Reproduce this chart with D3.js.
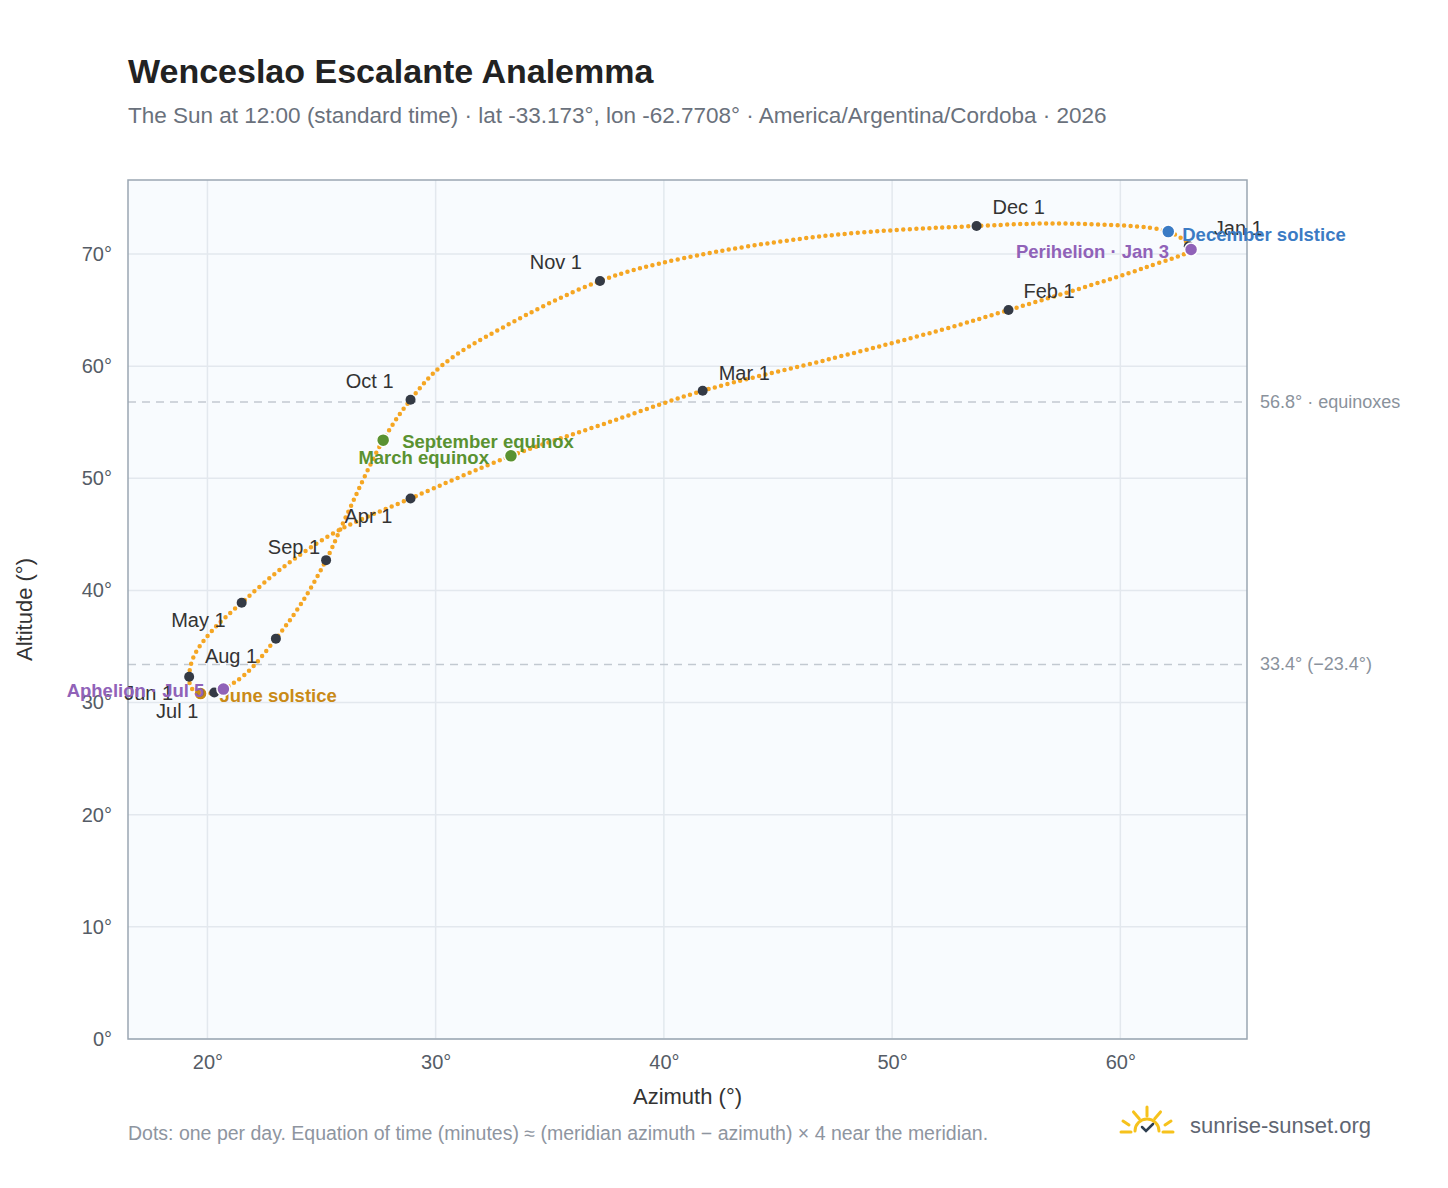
<!DOCTYPE html>
<meta charset="utf-8">
<body style="margin:0;background:#fff">
<script src="https://cdn.jsdelivr.net/npm/d3@7"></script>
<script>
// sun position at 12:00 standard time
var days = ["Jan 1","Jan 3","Jan 10","Jan 20","Feb 1","Feb 10","Feb 20","Mar 1","Mar 10","Mar 20","Apr 1","Apr 10","Apr 20","May 1","May 10","May 20","Jun 1","Jun 10","Jun 21","Jul 1","Jul 5","Jul 15","Aug 1","Aug 15","Sep 1","Sep 10","Sep 22","Oct 1","Oct 10","Oct 20","Nov 1","Nov 10","Nov 20","Dec 1","Dec 10","Dec 21","Dec 31"];
var azimuth  = [63.0,63.1,61.1,58.2,55.1,52.1,47.4,41.7,37.3,33.3,28.9,25.7,23.4,21.5,20.2,19.4,19.2,19.3,19.7,20.3,20.7,21.7,23.0,24.1,25.2,26.1,27.7,28.9,30.3,32.9,37.2,40.8,47.0,53.7,58.0,62.1,63.0];
var altitude = [70.7,70.4,68.8,66.9,65.0,63.2,60.7,57.8,54.8,52.0,48.2,45.3,42.2,38.9,36.4,34.1,32.3,31.3,30.8,30.9,31.2,32.6,35.7,38.8,42.7,46.7,53.4,57.0,60.1,63.4,67.6,69.6,71.6,72.5,72.7,72.0,70.9];

var monthDays = ["Jan 1","Feb 1","Mar 1","Apr 1","May 1","Jun 1","Jul 1","Aug 1","Sep 1","Oct 1","Nov 1","Dec 1"];
// label placement relative to dot: [dx, dy, anchor]
var monthLabelPos = [[25,-11,"start"],[15,-12,"start"],[16,-11,"start"],[-66,25,"start"],[-16,24,"end"],[-16,23,"end"],[-16,26,"end"],[-71,24,"start"],[-6,-6,"end"],[-17,-12,"end"],[-18,-12,"end"],[16,-12,"start"]];

var events = [
  {day:"Dec 21", name:"December solstice", color:"#3b7bc4", dx:14, dy:9, anchor:"start"},
  {day:"Jan 3", name:"Perihelion · Jan 3", color:"#9062b8", dx:-22, dy:8, anchor:"end"},
  {day:"Mar 20", name:"March equinox", color:"#5a9231", dx:-22, dy:8, anchor:"end"},
  {day:"Sep 22", name:"September equinox", color:"#5a9231", dx:19, dy:8, anchor:"start"},
  {day:"Jun 21", name:"June solstice", color:"#c98a17", dx:19, dy:8, anchor:"start"},
  {day:"Jul 5", name:"Aphelion · Jul 5", color:"#9062b8", dx:-19, dy:8, anchor:"end"}
];
var refLines = [{v:56.8, label:"56.8° · equinoxes"},{v:33.4, label:"33.4° (−23.4°)"}];
var xTicks = [20,30,40,50,60], yTicks = [0,10,20,30,40,50,60,70];

var W = 1448, H = 1188, L = 128, R = 1247, T = 180, B = 1039;
var svg = d3.select("body").append("svg").attr("width",W).attr("height",H)
  .style("font-family","Liberation Sans, Arial, sans-serif");

var x = d3.scaleLinear().domain([16.52,65.55]).range([L,R]);
var y = d3.scaleLinear().domain([0,76.6]).range([B,T]);

svg.append("rect").attr("x",L).attr("y",T).attr("width",R-L).attr("height",B-T).attr("fill","#f8fbfe");

// grid
svg.selectAll(".gx").data(xTicks).enter().append("line")
  .attr("x1",d=>x(d)).attr("x2",d=>x(d)).attr("y1",T).attr("y2",B).attr("stroke","#e3e8ee").attr("stroke-width",1.5);
svg.selectAll(".gy").data(yTicks).enter().append("line")
  .attr("x1",L).attr("x2",R).attr("y1",d=>y(d)).attr("y2",d=>y(d)).attr("stroke","#e3e8ee").attr("stroke-width",1.5);

// reference lines
refLines.forEach(function(r){
  svg.append("line").attr("x1",L).attr("x2",R).attr("y1",y(r.v)).attr("y2",y(r.v))
    .attr("stroke","#c2c9d1").attr("stroke-width",1.5).attr("stroke-dasharray","8,6");
  svg.append("text").attr("x",R+13).attr("y",y(r.v)+6).attr("font-size",18).attr("fill","#8a929c").text(r.label);
});

svg.append("rect").attr("x",L).attr("y",T).attr("width",R-L).attr("height",B-T)
  .attr("fill","none").attr("stroke","#9aa6b2").attr("stroke-width",1.5);

// axes
var xa = svg.append("g").attr("transform","translate(0,"+B+")")
  .call(d3.axisBottom(x).tickValues(xTicks).tickFormat(d=>d+"°").tickSize(0).tickPadding(16));
var ya = svg.append("g").attr("transform","translate("+L+",0)")
  .call(d3.axisLeft(y).tickValues(yTicks).tickFormat(d=>d+"°").tickSize(0).tickPadding(16));
[xa,ya].forEach(function(a){
  a.select(".domain").remove();
  a.selectAll("text").attr("font-size",20).attr("fill","#555c66").style("font-family","Liberation Sans, Arial, sans-serif");
});

svg.append("text").attr("x",(L+R)/2).attr("y",1104).attr("text-anchor","middle").attr("font-size",22).attr("fill","#333").text("Azimuth (°)");
svg.append("text").attr("transform","translate(32,"+((T+B)/2)+") rotate(-90)").attr("text-anchor","middle").attr("font-size",22).attr("fill","#333").text("Altitude (°)");

// analemma
var pts = days.map(function(d,i){ return {day:d, az:azimuth[i], alt:altitude[i]}; });
var byDay = {}; pts.forEach(p=>byDay[p.day]=p);
svg.append("path").datum(pts)
  .attr("d", d3.line().x(d=>x(d.az)).y(d=>y(d.alt)).curve(d3.curveCatmullRom))
  .attr("fill","none").attr("stroke","#f5a623").attr("stroke-width",4.5)
  .attr("stroke-linecap","round").attr("stroke-dasharray","0,6.5");

// month markers
monthDays.forEach(function(m,i){
  var p = byDay[m], o = monthLabelPos[i];
  svg.append("circle").attr("cx",x(p.az)).attr("cy",y(p.alt)).attr("r",5).attr("fill","#343a45");
  svg.append("text").attr("x",x(p.az)+o[0]).attr("y",y(p.alt)+o[1]).attr("text-anchor",o[2])
    .attr("font-size",20).attr("fill","#333").text(m);
});

// events
events.forEach(function(e){
  var p = byDay[e.day];
  svg.append("circle").attr("cx",x(p.az)).attr("cy",y(p.alt)).attr("r",6.5).attr("fill",e.color)
    .attr("stroke","#fff").attr("stroke-width",1.5);
  svg.append("text").attr("x",x(p.az)+e.dx).attr("y",y(p.alt)+e.dy).attr("text-anchor",e.anchor)
    .attr("font-size",18.5).attr("font-weight","bold").attr("fill",e.color).text(e.name);
});

// titles
svg.append("text").attr("x",128).attr("y",83).attr("font-size",34).attr("font-weight","bold").attr("fill","#222").text("Wenceslao Escalante Analemma");
svg.append("text").attr("x",128).attr("y",123).attr("font-size",22.5).attr("fill","#6a717c")
  .text("The Sun at 12:00 (standard time) · lat -33.173°, lon -62.7708° · America/Argentina/Cordoba · 2026");
svg.append("text").attr("x",128).attr("y",1140).attr("font-size",19.5).attr("fill","#8e959f")
  .text("Dots: one per day. Equation of time (minutes) ≈ (meridian azimuth − azimuth) × 4 near the meridian.");

// logo
var lg = svg.append("g").attr("transform","translate(1147,1128)");
[-90,-50,-130].forEach(function(a){
  var rad = a*Math.PI/180;
  lg.append("line").attr("x1",12*Math.cos(rad)).attr("y1",12*Math.sin(rad)).attr("x2",21*Math.cos(rad)).attr("y2",21*Math.sin(rad))
    .attr("stroke","#f6c21c").attr("stroke-width",3).attr("stroke-linecap","round");
});
lg.append("path").attr("d","M-24,-7 L-18,-3 M24,-7 L18,-3 M-26,4 L-16,4 M26,4 L16,4 M-12,3 A12,12 0 0 1 12,3")
  .attr("fill","none").attr("stroke","#f6c21c").attr("stroke-width",3).attr("stroke-linecap","round");
lg.append("path").attr("d","M-5,-1 L-1,3 L6,-4").attr("fill","none").attr("stroke","#2d3e50").attr("stroke-width",2.5).attr("stroke-linecap","round");
svg.append("text").attr("x",1190).attr("y",1133).attr("font-size",22).attr("fill","#5f6672").text("sunrise-sunset.org");
</script>
</body>
